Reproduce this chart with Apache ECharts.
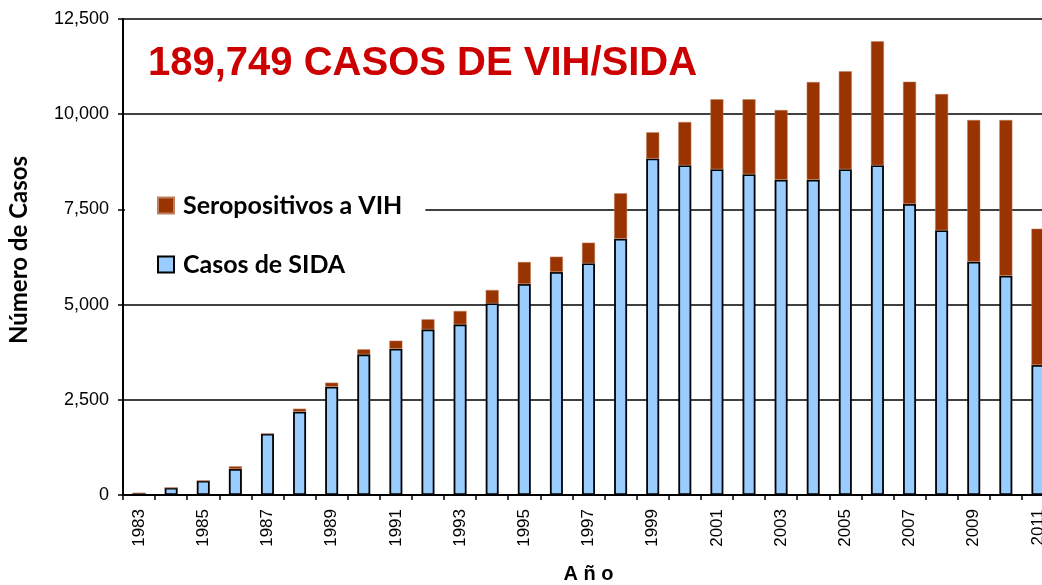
<!DOCTYPE html>
<html>
<head>
<meta charset="utf-8">
<script src="https://cdn.jsdelivr.net/npm/echarts@6/dist/echarts.min.js"></script>
<style>
html,body{margin:0;padding:0;background:#fff;}
#chart{width:1042px;height:585px;}
</style>
</head>
<body>
<div id="chart"></div>
<script>
const years = ['1983','1984','1985','1986','1987','1988','1989','1990','1991','1992','1993','1994','1995','1996','1997','1998','1999','2000','2001','2002','2003','2004','2005','2006','2007','2008','2009','2010','2011'];
const casosSida = [50,190,375,683,1610,2188,2845,3694,3843,4350,4482,5034,5541,5856,6084,6731,8835,8658,8555,8425,8280,8280,8555,8658,7642,6951,6127,5759,3414];
const seropositivosVih = [0,0,0,70,0,79,105,132,209,263,350,349,578,402,542,1192,690,1137,1836,1966,1830,2565,2571,3256,3212,3579,3721,4089,3579];
const titleText = '189,749 CASOS DE VIH/SIDA';
const yAxisName = 'Número de Casos';
const xAxisName = 'A ñ o';

const chart = echarts.init(document.getElementById('chart'), null, {renderer:'canvas'});
chart.setOption({
  animation:false,
  backgroundColor:'#fff',
  title:{
    text:titleText, left:148, top:44, padding:0,
    textStyle:{fontFamily:'Liberation Sans', fontWeight:'bold', fontSize:40, color:'#CC0000'}
  },
  legend:{
    orient:'vertical', left:125, top:183,
    padding:[10,23,14,32], itemGap:34, itemWidth:16, itemHeight:16,
    icon:'rect',
    backgroundColor:'#fff',
    data:['Seropositivos a VIH','Casos de SIDA'],
    textStyle:{fontFamily:'Lato', fontWeight:'bold', fontSize:25, color:'#000', padding:[0,0,0,4]}
  },
  graphic:[{
    type:'text', x:19, y:250, rotation:Math.PI/2,
    style:{text:yAxisName, textAlign:'center', textVerticalAlign:'middle',
      font:'bold 24px Lato', fill:'#000'}
  }],
  grid:{left:123, top:19, bottom:90, right:-12, containLabel:false, outerBoundsMode:'none'},
  xAxis:{
    type:'category', data:years, boundaryGap:true,
    name:xAxisName, nameLocation:'middle', nameGap:69,
    nameTextStyle:{fontFamily:'Liberation Sans', fontWeight:'bold', fontSize:20, color:'#000'},
    axisLine:{lineStyle:{color:'#000', width:2}},
    axisTick:{show:true, interval:0, length:5, lineStyle:{color:'#000', width:1.5}},
    axisLabel:{interval:1, rotate:90, margin:14, fontFamily:'Liberation Sans', fontSize:17, color:'#000'}
  },
  yAxis:{
    type:'value', min:0, max:12500, interval:2500,
    axisLine:{show:true, lineStyle:{color:'#000', width:2}},
    axisTick:{show:true, length:5, lineStyle:{color:'#000', width:1.5}},
    axisLabel:{margin:14, fontFamily:'Liberation Sans', fontSize:18, color:'#000',
      formatter:v=>v.toLocaleString('en-US')},
    splitLine:{show:true, lineStyle:{color:'#000', width:1.5}}
  },
  series:[
    {name:'Casos de SIDA', type:'bar', stack:'t', data:casosSida, barWidth:13,
     itemStyle:{color:'#99CCFF', borderColor:'#000', borderWidth:1.8}},
    {name:'Seropositivos a VIH', type:'bar', stack:'t', data:seropositivosVih, barWidth:13,
     itemStyle:{color:'#993300', borderColor:'#c08060', borderWidth:0.5}}
  ]
});
</script>
</body>
</html>
